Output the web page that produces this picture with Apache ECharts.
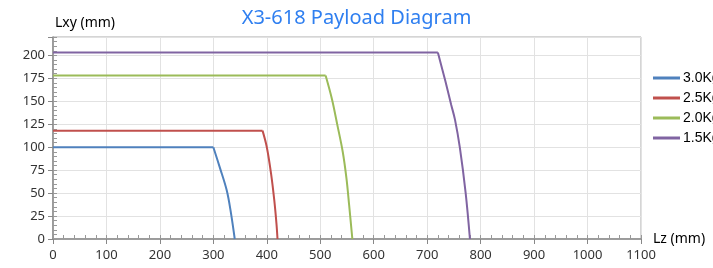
<!DOCTYPE html>
<html>
<head>
<meta charset="utf-8">
<script src="https://cdn.jsdelivr.net/npm/echarts@6/dist/echarts.min.js"></script>
<style>
  html, body { margin: 0; padding: 0; background: #fff; }
  #chart { width: 713px; height: 268px; }
</style>
</head>
<body>
<div id="chart"></div>
<script>
// values: [Lz, Lxy]
const load30 = [[0, 100], [300, 100], [312, 78], [325, 53], [333, 28], [340, 0]]
const load25 = [[0, 118], [392, 118], [400, 100], [408, 71], [414, 42], [418, 17], [420, 0]]
const load20 = [[0, 178], [510, 178], [522, 152], [532, 124], [542, 95], [549, 66], [554, 37], [560, 0]]
const load15 = [[0, 203], [720, 203], [734, 172], [745, 146], [752, 130], [761, 100], [772, 50], [780, 0]]
const names = ['3.0Kg', '2.5Kg', '2.0Kg', '1.5Kg']
const colors = ['#4f81bd', '#c0504d', '#9bbb59', '#8064a2']

const font = 'Noto Sans'
const chart = echarts.init(document.getElementById('chart'))

// flat part drawn straight, falling part smoothed; both share one legend name
const mkSeries = (name, data, color) => [data.slice(0, 2), data.slice(1)].map((part, i) => ({
  name: name,
  type: 'line',
  data: part,
  symbol: 'none',
  smooth: i === 1 ? 0.35 : false,
  lineStyle: { color: color, width: 2 },
  itemStyle: { color: color },
  emphasis: { disabled: true }
}))

// extra axis that only draws the small inner ticks
const fineAxis = (max, step, pos) => ({
  type: 'value',
  position: pos,
  min: 0,
  max: max,
  interval: step,
  axisLine: { show: false },
  axisTick: { show: true, inside: true, length: 4, lineStyle: { color: '#999', width: 1 } },
  axisLabel: { show: false },
  splitLine: { show: false }
})

chart.setOption({
  animation: false,
  title: {
    text: 'X3-618 Payload Diagram',
    left: 'center',
    top: 3,
    textStyle: { color: '#2f7ff0', fontSize: 20, fontWeight: 'normal', fontFamily: font }
  },
  legend: {
    orient: 'vertical',
    left: 648,
    top: 66,
    itemWidth: 27,
    itemHeight: 3,
    itemGap: 6,
    icon: 'rect',
    data: names,
    textStyle: { color: '#000', fontSize: 14, fontFamily: 'Liberation Sans', padding: [0, 0, 0, -2] }
  },
  grid: {
    left: 53,
    right: 72,
    top: 37,
    bottom: 29,
    show: true,
    borderColor: '#aaa',
    borderWidth: 1
  },
  xAxis: [{
    type: 'value',
    min: 0,
    max: 1100,
    interval: 100,
    name: 'Lz (mm)',
    nameLocation: 'end',
    nameGap: 12,
    nameTextStyle: { color: '#000', fontSize: 14, fontFamily: font, verticalAlign: 'middle' },
    axisLine: { lineStyle: { color: '#888', width: 1.5 } },
    axisTick: { show: true, length: 5, lineStyle: { color: '#888' } },
    axisLabel: { color: '#333', fontSize: 13, fontFamily: font, margin: 10, formatter: v => String(v) },
    splitLine: { lineStyle: { color: '#e2e2e2', width: 1 } }
  }, fineAxis(1100, 20, 'bottom')],
  yAxis: [{
    type: 'value',
    min: 0,
    max: 220,
    interval: 25,
    name: 'Lxy (mm)',
    nameLocation: 'end',
    nameGap: 7,
    nameTextStyle: { color: '#000', fontSize: 14, fontFamily: font, padding: [0, 0, 0, 64] },
    axisLine: { show: true, lineStyle: { color: '#888', width: 1.5 } },
    axisTick: { show: true, length: 5, lineStyle: { color: '#888' } },
    axisLabel: {
      color: '#333', fontSize: 13, fontFamily: font, margin: 8,
      formatter: v => (v % 25 === 0 ? String(v) : '')
    },
    splitLine: { lineStyle: { color: '#e2e2e2', width: 1 } }
  }, fineAxis(220, 5, 'left')],
  series: [
    ...mkSeries(names[0], load30, colors[0]),
    ...mkSeries(names[1], load25, colors[1]),
    ...mkSeries(names[2], load20, colors[2]),
    ...mkSeries(names[3], load15, colors[3])
  ]
})
</script>
</body>
</html>
